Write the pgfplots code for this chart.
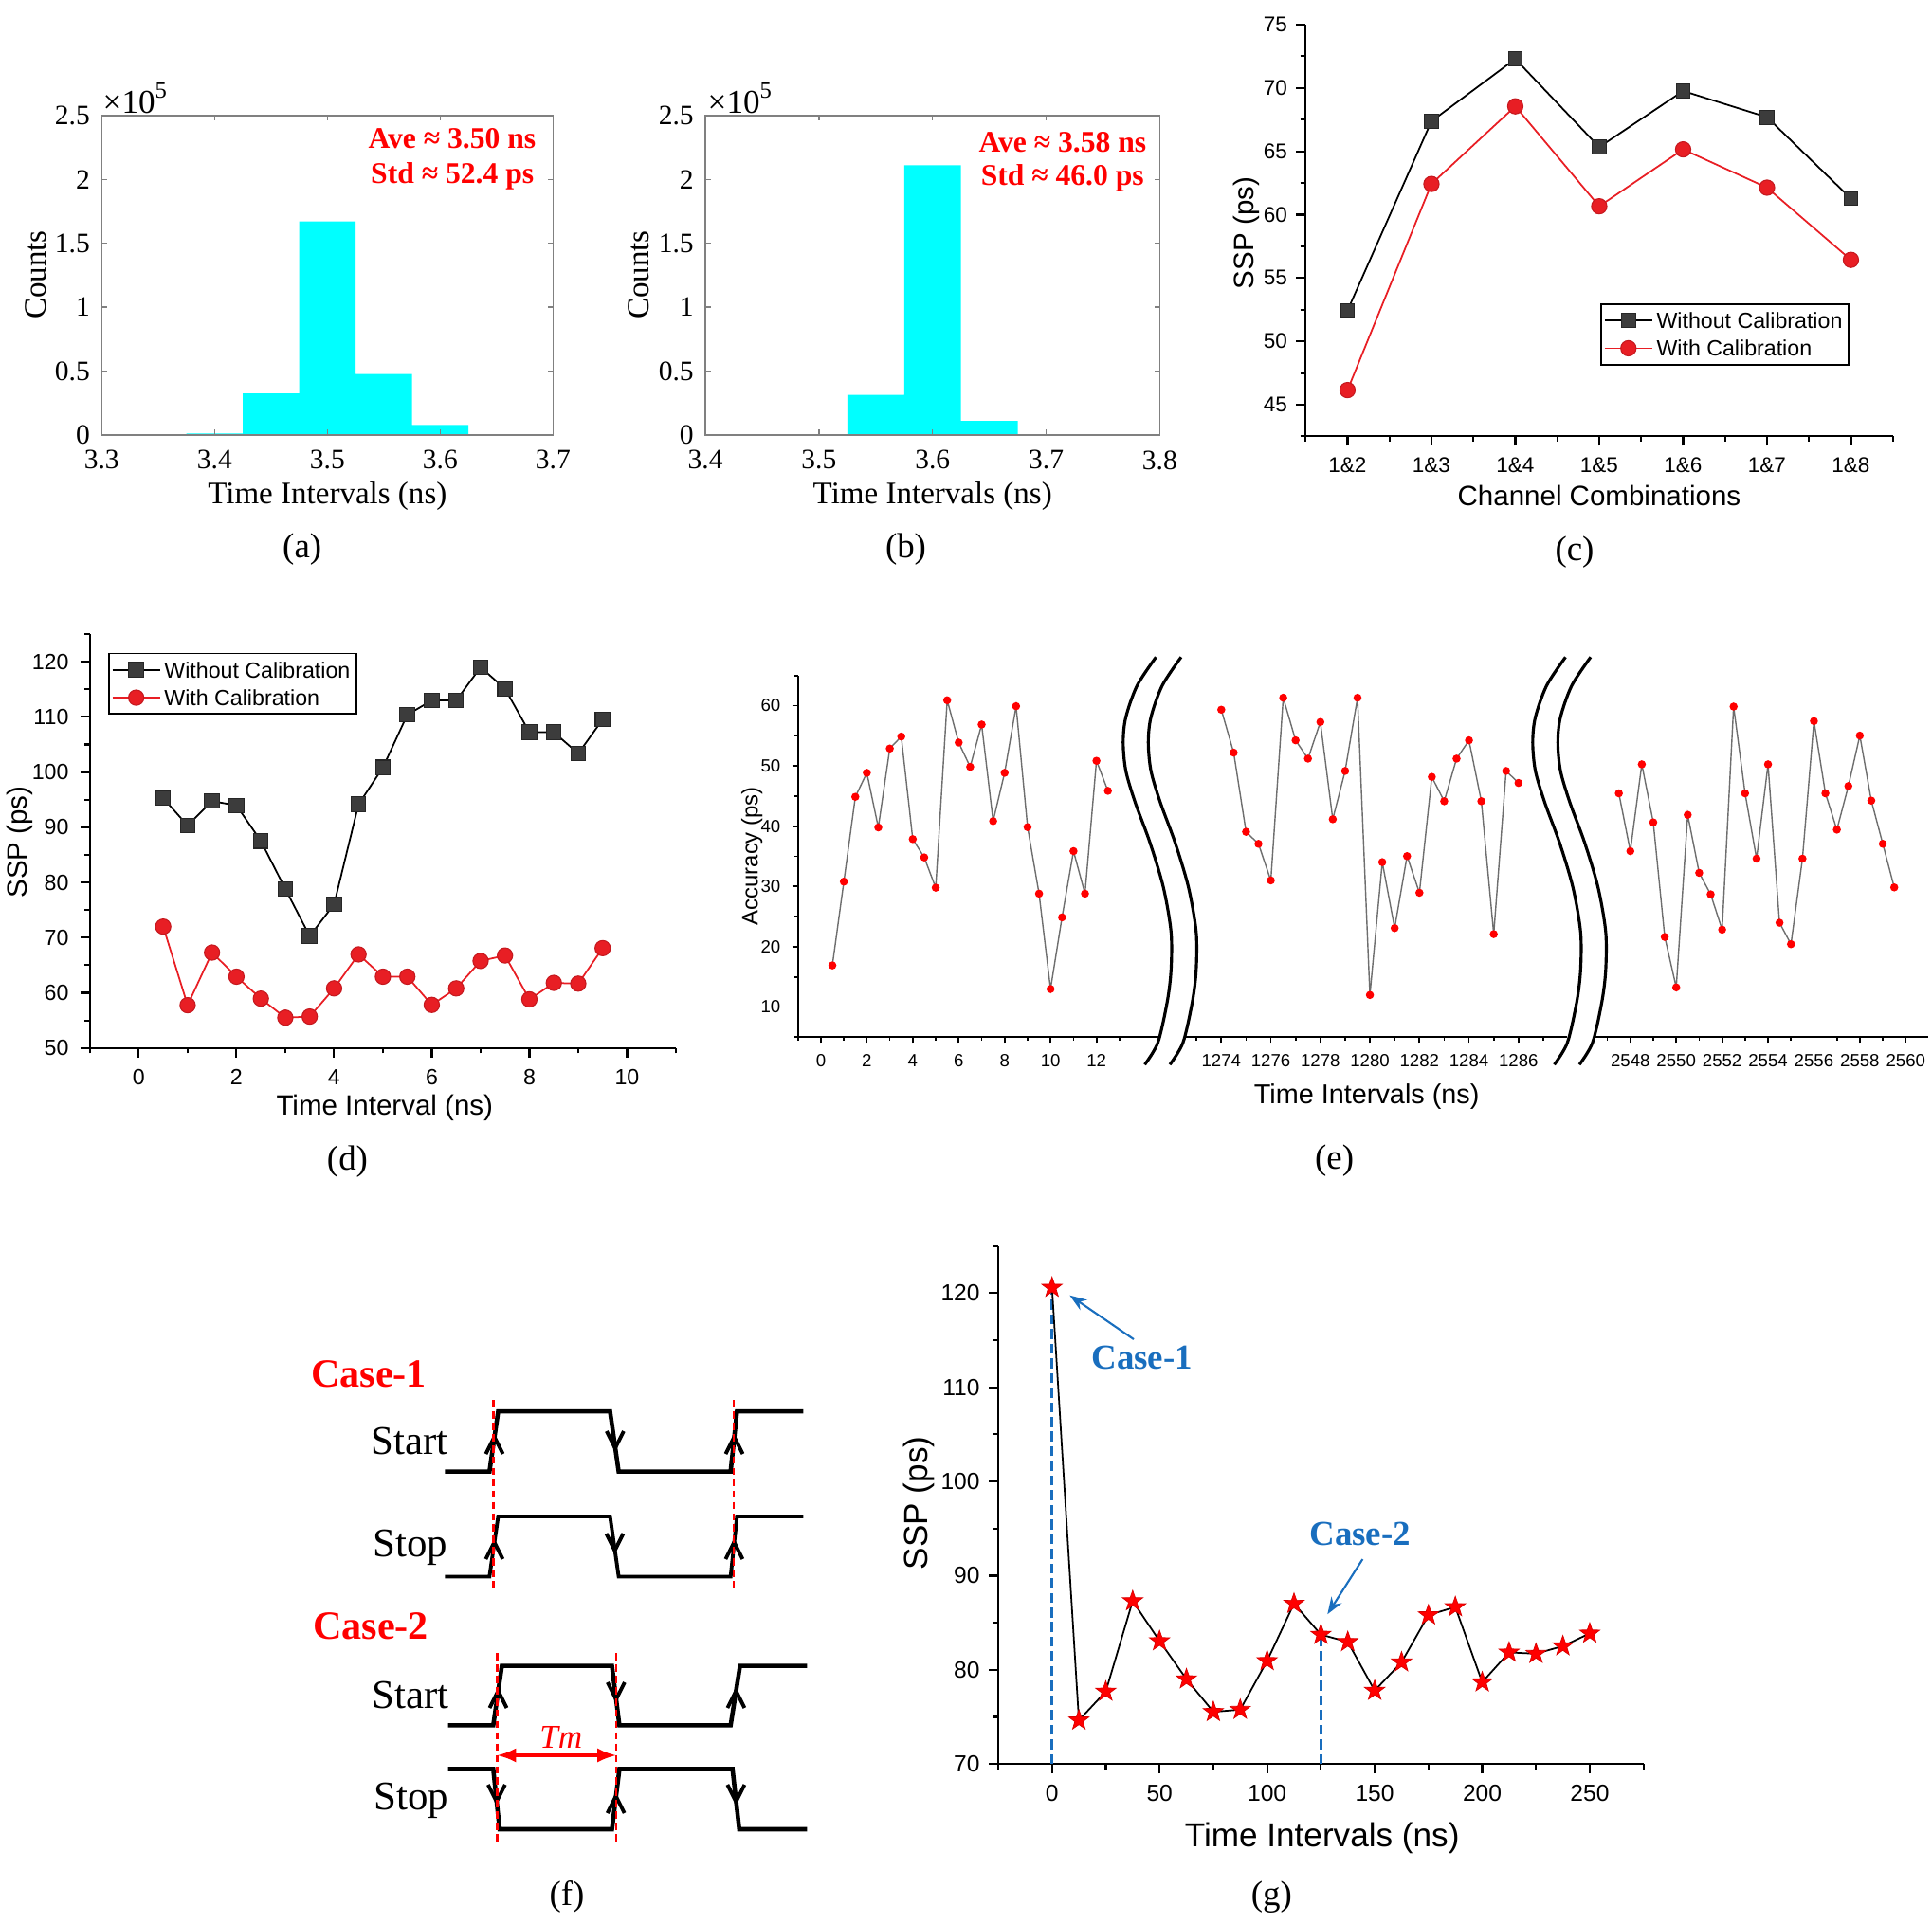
\documentclass[border=0pt]{standalone}
\usepackage{pgfplots}
\pgfplotsset{compat=1.18}
\usepackage{fontspec}
\setmainfont{Liberation Serif}
\newfontfamily\arial{Liberation Sans}
\newfontfamily\tnr{Liberation Serif}
\usetikzlibrary{arrows.meta}
\definecolor{origred}{RGB}{232,30,36}
\definecolor{sqgray}{RGB}{60,60,60}
\definecolor{caseblue}{RGB}{25,110,190}
\definecolor{hcyan}{RGB}{0,255,255}
\definecolor{egray}{RGB}{110,110,110}
\pgfdeclareplotmark{fstar}{%
 \pgfpathmoveto{\pgfpointpolar{90}{1\pgfplotmarksize}}%
 \pgfpathlineto{\pgfpointpolar{126}{0.40\pgfplotmarksize}}%
 \pgfpathlineto{\pgfpointpolar{162}{1\pgfplotmarksize}}%
 \pgfpathlineto{\pgfpointpolar{198}{0.40\pgfplotmarksize}}%
 \pgfpathlineto{\pgfpointpolar{234}{1\pgfplotmarksize}}%
 \pgfpathlineto{\pgfpointpolar{270}{0.40\pgfplotmarksize}}%
 \pgfpathlineto{\pgfpointpolar{306}{1\pgfplotmarksize}}%
 \pgfpathlineto{\pgfpointpolar{342}{0.40\pgfplotmarksize}}%
 \pgfpathlineto{\pgfpointpolar{18}{1\pgfplotmarksize}}%
 \pgfpathlineto{\pgfpointpolar{54}{0.40\pgfplotmarksize}}%
 \pgfpathclose\pgfusepathqfillstroke}
\pgfplotsset{
 matlab/.style={scale only axis, scaled ticks=false, axis on top,
  tick align=inside, tick pos=both, major tick length=0.55mm,
  axis line style={black!50,line width=0.4pt}, tick style={black!50,line width=0.4pt},
  tick label style={font=\tnr\fontsize{8.4}{10}\selectfont},
  xticklabel style={yshift=-0.4mm},
  label style={font=\tnr\fontsize{9.4}{11}\selectfont}},
 origin/.style={scale only axis, scaled ticks=false, axis lines*=left,
  axis line style={line width=0.6pt}, tick align=outside,
  tick style={black,line width=0.6pt}, major tick length=1mm, minor tick length=0.55mm},
 olegend/.style={draw=black,line width=0.5pt,
   font=\arial\fontsize{6.6}{8}\selectfont,inner xsep=0.8pt,inner ysep=2pt,row sep=0.9mm,
   nodes={inner xsep=1.1pt,inner ysep=0.5pt,text depth=0pt},cells={anchor=west}},
}
\begin{document}
\begin{tikzpicture}
\path[use as bounding box] (0,0) rectangle (203.8mm,203mm);

% ---------- (a)
\begin{axis}[matlab, at={(10.73mm,157.1mm)},anchor=south west,width=47.61mm,height=33.7mm,
 xmin=3.3,xmax=3.7,ymin=0,ymax=2.5,
 xtick={3.3,3.4,3.5,3.6,3.7},xticklabels={3.3,3.4,3.5,3.6,3.7},
 ytick={0,0.5,1,1.5,2,2.5},yticklabels={0,0.5,1,1.5,2,2.5},
 xlabel={Time Intervals (ns)}, ylabel={Counts},
 xlabel style={at={(axis description cs:0.5,-0.191)},anchor=center},
 ylabel style={at={(axis description cs:-0.146,0.501)},anchor=center}]
\addplot[ybar interval,fill=hcyan,draw=none] coordinates {(3.375,0.012)(3.425,0.326)(3.475,1.672)(3.525,0.477)(3.575,0.079)(3.625,0.005)(3.675,0.005)};
\end{axis}

% ---------- (b)
\begin{axis}[matlab, at={(74.41mm,157.1mm)},anchor=south west,width=47.93mm,height=33.7mm,
 xmin=3.4,xmax=3.8,ymin=0,ymax=2.5,
 xtick={3.4,3.5,3.6,3.7,3.8},xticklabels={3.4,3.5,3.6,3.7,3.8},
 ytick={0,0.5,1,1.5,2,2.5},yticklabels={0,0.5,1,1.5,2,2.5},
 xlabel={Time Intervals (ns)}, ylabel={Counts},
 xlabel style={at={(axis description cs:0.5,-0.191)},anchor=center},
 ylabel style={at={(axis description cs:-0.147,0.501)},anchor=center}]
\addplot[ybar interval,fill=hcyan,draw=none] coordinates {(3.475,0.004)(3.525,0.315)(3.575,2.111)(3.625,0.111)(3.675,0.005)(3.725,0.005)};
\end{axis}

% ---------- (c)
\begin{axis}[origin, at={(137.72mm,156.96mm)},anchor=south west,width=61.95mm,height=43.44mm,
 xmin=0.5,xmax=7.5,ymin=42.5,ymax=75,
 xtick={1,2,3,4,5,6,7},xticklabels={1\&2,1\&3,1\&4,1\&5,1\&6,1\&7,1\&8},
 minor xtick={0.5,1.5,2.5,3.5,4.5,5.5,6.5,7.5},
 ytick={45,50,55,60,65,70,75},yticklabels={45,50,55,60,65,70,75},
 minor ytick={42.5,47.5,52.5,57.5,62.5,67.5,72.5},
 tick label style={font=\arial\fontsize{6.4}{8}\selectfont},
 yticklabel style={xshift=0.3mm},
 label style={font=\arial\fontsize{8.4}{10}\selectfont},
 xlabel={Channel Combinations}, ylabel={SSP (ps)},
 xlabel style={at={(axis description cs:0.5,-0.144)},anchor=center},
 ylabel style={at={(axis description cs:-0.101,0.4936)},anchor=center},
 legend style={olegend,at={(0.502,0.323)},anchor=north west},
 legend image code/.code={\draw[mark repeat=2,mark phase=2,#1] plot coordinates {(0mm,0mm)(2.5mm,0mm)(5mm,0mm)};}]
\addplot[black,line width=0.5pt,mark=square*,mark size=2.1pt,mark options={fill=sqgray,draw=black!85,line width=0.3pt}]
 coordinates {(1,52.43)(2,67.37)(3,72.29)(4,65.33)(5,69.76)(6,67.69)(7,61.27)};
\addlegendentry{Without Calibration}
\addplot[origred,line width=0.5pt,mark=*,mark size=2.3pt,mark options={fill=origred,draw=origred!85!black,line width=0.3pt}]
 coordinates {(1,46.15)(2,62.42)(3,68.55)(4,60.66)(5,65.15)(6,62.13)(7,56.43)};
\addlegendentry{With Calibration}
\end{axis}

% ---------- (d)
\begin{axis}[origin, at={(9.49mm,92.42mm)},anchor=south west,width=61.81mm,height=43.68mm,
 xmin=-1,xmax=11,ymin=50,ymax=125,
 xtick={0,2,4,6,8,10},xticklabels={0,2,4,6,8,10},
 minor xtick={-1,1,3,5,7,9,11},
 ytick={50,60,70,80,90,100,110,120},yticklabels={50,60,70,80,90,100,110,120},
 minor ytick={55,65,75,85,95,105,115,125},
 tick label style={font=\arial\fontsize{6.6}{8}\selectfont},
 label style={font=\arial\fontsize{8.4}{10}\selectfont},
 xlabel={Time Interval (ns)}, ylabel={SSP (ps)},
 xlabel style={at={(axis description cs:0.503,-0.1447)},anchor=center},
 ylabel style={at={(axis description cs:-0.1196,0.4975)},anchor=center},
 legend style={olegend,at={(0.031,0.955)},anchor=north west},
 legend image code/.code={\draw[mark repeat=2,mark phase=2,#1] plot coordinates {(0mm,0mm)(2.5mm,0mm)(5mm,0mm)};}]
\addplot[black,line width=0.5pt,mark=square*,mark size=2.2pt,mark options={fill=sqgray,draw=black!85,line width=0.3pt}]
 coordinates {(0.5,95.28)(1,90.30)(1.5,94.75)(2,93.95)(2.5,87.52)(3,78.84)(3.5,70.28)(4,76.05)(4.5,94.15)(5,100.84)(5.5,110.39)(6,112.97)(6.5,112.97)(7,119.0)(7.5,115.09)(8,107.21)(8.5,107.21)(9,103.36)(9.5,109.53)};
\addlegendentry{Without Calibration}
\addplot[origred,line width=0.5pt,mark=*,mark size=2.3pt,mark options={fill=origred,draw=origred!85!black,line width=0.3pt}]
 coordinates {(0.5,72.0)(1,57.76)(1.5,67.3)(2,62.93)(2.5,58.95)(3,55.5)(3.5,55.7)(4,60.81)(4.5,66.97)(5,62.93)(5.5,62.93)(6,57.82)(6.5,60.81)(7,65.78)(7.5,66.77)(8,58.82)(8.5,61.8)(9,61.67)(9.5,68.1)};
\addlegendentry{With Calibration}
\end{axis}

% ---------- (e) segment 1
\begin{axis}[origin, at={(84.17mm,93.57mm)},anchor=south west,width=38.13mm,height=38.16mm,
 xmin=-1,xmax=14.74,ymin=5,ymax=65,
 major tick length=0.6mm, minor tick length=0.35mm,
 axis line style={line width=0.5pt}, tick style={black,line width=0.5pt},
 xtick={0,2,4,6,8,10,12},xticklabels={0,2,4,6,8,10,12},
 minor xtick={-1,1,3,5,7,9,11,13},
 ytick={10,20,30,40,50,60},yticklabels={10,20,30,40,50,60},
 minor ytick={5,15,25,35,45,55,65},
 tick label style={font=\arial\fontsize{5.3}{6}\selectfont},
 ylabel={Accuracy (ps)}, ylabel style={font=\arial\fontsize{6.8}{8}\selectfont,at={(axis description cs:-0.127,0.5005)},anchor=center}]
\addplot[egray,line width=0.4pt,mark=*,mark size=1.0pt,mark options={fill=red,draw=red}]
 coordinates {(0.5,16.9)(1,30.8)(1.5,44.87)(2,48.85)(2.5,39.79)(3,52.88)(3.5,54.87)(4,37.85)(4.5,34.82)(5,29.79)(5.5,60.89)(6,53.87)(6.5,49.84)(7,56.86)(7.5,40.84)(8,48.85)(8.5,59.9)(9,39.84)(9.5,28.8)(10,12.98)(10.5,24.87)(11,35.86)(11.5,28.8)(12,50.84)(12.5,45.86)};
\end{axis}
% segment 2
\begin{axis}[origin, at={(125.0mm,93.57mm)},anchor=south west,width=40.3mm,height=38.16mm,
 axis x line*=bottom, axis y line=none,
 xmin=1272.534,xmax=1287.96,ymin=5,ymax=65,
 major tick length=0.6mm, minor tick length=0.35mm,
 axis line style={line width=0.5pt}, tick style={black,line width=0.5pt},
 xtick={1274,1276,1278,1280,1282,1284,1286},xticklabels={1274,1276,1278,1280,1282,1284,1286},
 minor xtick={1273,1275,1277,1279,1281,1283,1285,1287}, ytick=\empty,
 tick label style={font=\arial\fontsize{5.3}{6}\selectfont}]
\addplot[egray,line width=0.4pt,mark=*,mark size=1.0pt,mark options={fill=red,draw=red}]
 coordinates {(1274,59.32)(1274.5,52.2)(1275,39.06)(1275.5,37.07)(1276,31.0)(1276.5,61.31)(1277,54.24)(1277.5,51.2)(1278,57.28)(1278.5,41.15)(1279,49.16)(1279.5,61.31)(1280,11.99)(1280.5,34.03)(1281,23.09)(1281.5,35.03)(1282,28.95)(1282.5,48.17)(1283,44.14)(1283.5,51.2)(1284,54.24)(1284.5,44.14)(1285,22.09)(1285.5,49.16)(1286,47.17)};
\end{axis}
% segment 3
\begin{axis}[origin, at={(168.2mm,93.57mm)},anchor=south west,width=35.2mm,height=38.16mm,
 axis x line*=bottom, axis y line=none,
 xmin=2546.44,xmax=2560.98,ymin=5,ymax=65,
 major tick length=0.6mm, minor tick length=0.35mm,
 axis line style={line width=0.5pt}, tick style={black,line width=0.5pt},
 xtick={2548,2550,2552,2554,2556,2558,2560},xticklabels={2548,2550,2552,2554,2556,2558,2560},
 minor xtick={2547,2549,2551,2553,2555,2557,2559}, ytick=\empty,
 tick label style={font=\arial\fontsize{5.3}{6}\selectfont}]
\addplot[egray,line width=0.4pt,mark=*,mark size=1.0pt,mark options={fill=red,draw=red}]
 coordinates {(2547.5,45.45)(2548,35.86)(2548.5,50.26)(2549,40.63)(2549.5,21.62)(2550,13.25)(2550.5,41.88)(2551,32.25)(2551.5,28.69)(2552,22.83)(2552.5,59.84)(2553,45.45)(2553.5,34.61)(2554,50.26)(2554.5,23.98)(2555,20.42)(2555.5,34.61)(2556,57.43)(2556.5,45.45)(2557,39.42)(2557.5,46.65)(2558,55.03)(2558.5,44.24)(2559,37.07)(2559.5,29.84)};
\end{axis}

% ---------- (g)
\begin{axis}[origin, at={(105.3mm,16.88mm)},anchor=south west,width=68.07mm,height=54.65mm,
 xmin=-25,xmax=275,ymin=70,ymax=125,
 xtick={0,50,100,150,200,250},xticklabels={0,50,100,150,200,250},
 minor xtick={-25,25,75,125,175,225,275},
 ytick={70,80,90,100,110,120},yticklabels={70,80,90,100,110,120},
 minor ytick={75,85,95,105,115,125},
 tick label style={font=\arial\fontsize{7}{8}\selectfont},
 yticklabel style={xshift=0.3mm},
 label style={font=\arial\fontsize{10}{12}\selectfont},
 xlabel={Time Intervals (ns)}, ylabel={SSP (ps)},
 xlabel style={at={(axis description cs:0.502,-0.1435)},anchor=center},
 ylabel style={at={(axis description cs:-0.1234,0.5036)},anchor=center}]
\addplot[caseblue,line width=0.8pt,dash pattern=on 3pt off 1.4pt] coordinates {(0,70)(0,120.59)};
\addplot[caseblue,line width=0.8pt,dash pattern=on 3pt off 1.4pt] coordinates {(125,70)(125,83.74)};
\addplot[black,line width=0.5pt,mark=fstar,mark size=3.2pt,mark options={fill=red,draw=red!85!black,line width=0.2pt}]
 coordinates {(0,120.59)(12.5,74.64)(25,77.7)(37.5,87.3)(50,83.06)(62.5,79.01)(75,75.54)(87.5,75.77)(100,80.95)(112.5,87.03)(125,83.74)(137.5,82.97)(150,77.79)(162.5,80.81)(175,85.81)(187.5,86.67)(200,78.69)(212.5,81.85)(225,81.71)(237.5,82.52)(250,83.87)};
\draw[caseblue,line width=0.6pt,-{Stealth[length=1.8mm,width=1.3mm]}] (axis cs:38,115.1) -- (axis cs:8.2,119.77);
\draw[caseblue,line width=0.6pt,-{Stealth[length=1.8mm,width=1.3mm]}] (axis cs:144.4,91.75) -- (axis cs:128.05,85.9);
\node[font=\tnr\bfseries\fontsize{10.5}{12}\selectfont,text=caseblue] at (axis cs:41.9,113.15) {Case-1};
\node[font=\tnr\bfseries\fontsize{10.5}{12}\selectfont,text=caseblue] at (axis cs:143.2,94.45) {Case-2};
\end{axis}

% ---------- overlay in reference pixel coordinates
\begin{axis}[at={(0mm,0mm)},anchor=south west,scale only axis,width=203.8mm,height=203mm,
 xmin=0,xmax=2038,ymin=0,ymax=2030,y dir=reverse,hide axis,clip=false]
% (a),(b) annotations
\node[anchor=west,inner sep=0pt,font=\tnr\fontsize{10}{11}\selectfont] at (axis cs:108,104) {×10\raisebox{1.0ex}{\fontsize{7}{8}\selectfont 5}};
\node[anchor=west,inner sep=0pt,font=\tnr\fontsize{10}{11}\selectfont] at (axis cs:746,104) {×10\raisebox{1.0ex}{\fontsize{7}{8}\selectfont 5}};
\node[anchor=east,inner sep=0pt,font=\tnr\bfseries\fontsize{9}{11}\selectfont,text=red] at (axis cs:566,146.7) {Ave ≈ 3.50 ns};
\node[anchor=east,inner sep=0pt,font=\tnr\bfseries\fontsize{9}{11}\selectfont,text=red] at (axis cs:564,186) {Std ≈ 52.4 ps};
\node[anchor=east,inner sep=0pt,font=\tnr\bfseries\fontsize{9}{11}\selectfont,text=red] at (axis cs:1210,150) {Ave ≈ 3.58 ns};
\node[anchor=east,inner sep=0pt,font=\tnr\bfseries\fontsize{9}{11}\selectfont,text=red] at (axis cs:1207.5,188.3) {Std ≈ 46.0 ps};
% (e) axis breaks and x label
\addplot[black,line width=0.9pt,smooth] coordinates {(1219.4,693.3)(1199.5,723.3)(1187.6,756.7)(1184.8,783.3)(1187.6,813.3)(1197.5,846.7)(1213.4,890)(1227.3,936.7)(1235.3,983.3)(1235.3,1023.3)(1231.3,1056.7)(1221.4,1100)(1207.5,1123.3)};
\addplot[black,line width=0.9pt,smooth] coordinates {(1245.9,693.3)(1226.0,723.3)(1214.1,756.7)(1211.3,783.3)(1214.1,813.3)(1224.0,846.7)(1239.9,890)(1253.8,936.7)(1261.8,983.3)(1261.8,1023.3)(1257.8,1056.7)(1247.9,1100)(1234.0,1123.3)};
\addplot[black,line width=0.9pt,smooth] coordinates {(1651.4,693.3)(1631.5,723.3)(1619.6,756.7)(1616.8,783.3)(1619.6,813.3)(1629.5,846.7)(1645.4,890)(1659.3,936.7)(1667.3,983.3)(1667.3,1023.3)(1663.3,1056.7)(1653.4,1100)(1639.5,1123.3)};
\addplot[black,line width=0.9pt,smooth] coordinates {(1677.9,693.3)(1658.0,723.3)(1646.1,756.7)(1643.3,783.3)(1646.1,813.3)(1656.0,846.7)(1671.9,890)(1685.8,936.7)(1693.8,983.3)(1693.8,1023.3)(1689.8,1056.7)(1679.9,1100)(1666.0,1123.3)};
\node[font=\arial\fontsize{8.2}{10}\selectfont] at (axis cs:1441.7,1156.7) {Time Intervals (ns)};
% (f) timing diagram
\addplot[black,line width=1.3pt] coordinates {(469.4,1552.7)(516.3,1552.7)(525.5,1489.2)(643.5,1489.2)(652.6,1552.7)(770.7,1552.7)(777.4,1489.2)(847.4,1489.2)};
\addplot[black,line width=1.1pt] coordinates {(469.4,1663.5)(516.3,1663.5)(525.5,1600)(643.5,1600)(652.6,1663.5)(770.7,1663.5)(777.4,1600)(847.4,1600)};
\addplot[black,line width=1.3pt] coordinates {(472.6,1820.4)(520.3,1820.4)(529.4,1757.7)(645.5,1757.7)(653.4,1820.4)(770.7,1820.4)(780.6,1757.7)(851.3,1757.7)};
\addplot[black,line width=1.3pt] coordinates {(472.6,1866.5)(520.3,1866.5)(527,1930)(645.5,1930)(653.4,1866.5)(772.7,1866.5)(779.8,1930)(851.3,1930)};
% edge arrows
\addplot[black,line width=1.1pt] coordinates {(512.5,1534)(521.5,1516)(530.5,1534)};
\addplot[black,line width=1.1pt] coordinates {(639.9,1510)(648.9,1528)(657.9,1510)};
\addplot[black,line width=1.1pt] coordinates {(765.5,1534)(774.5,1516)(783.5,1534)};
\addplot[black,line width=1.1pt] coordinates {(512.4,1645)(521.4,1627)(530.4,1645)};
\addplot[black,line width=1.1pt] coordinates {(639.5,1618)(648.5,1636)(657.5,1618)};
\addplot[black,line width=1.1pt] coordinates {(765.4,1645)(774.4,1627)(783.4,1645)};
\addplot[black,line width=1.1pt] coordinates {(516.5,1802)(525.5,1784)(534.5,1802)};
\addplot[black,line width=1.1pt] coordinates {(640.9,1775)(649.9,1793)(658.9,1775)};
\addplot[black,line width=1.1pt] coordinates {(767.4,1802)(776.4,1784)(785.4,1802)};
\addplot[black,line width=1.1pt] coordinates {(514.8,1883)(523.8,1901)(532.8,1883)};
\addplot[black,line width=1.1pt] coordinates {(640.7,1913)(649.7,1895)(658.7,1913)};
\addplot[black,line width=1.1pt] coordinates {(767.4,1883)(776.4,1901)(785.4,1883)};
% red dashed guides
\addplot[red,line width=0.7pt,dash pattern=on 2.2pt off 1.2pt] coordinates {(520.3,1477)(520.3,1679)};
\addplot[red,line width=0.7pt,dash pattern=on 2.2pt off 1.2pt] coordinates {(773.8,1477)(773.8,1679)};
\addplot[red,line width=0.7pt,dash pattern=on 2.2pt off 1.2pt] coordinates {(524.3,1744)(524.3,1946)};
\addplot[red,line width=0.7pt,dash pattern=on 2.2pt off 1.2pt] coordinates {(650.2,1744)(650.2,1946)};
\addplot[red,line width=0.9pt,{Latex[length=2mm,width=1.5mm]}-{Latex[length=2mm,width=1.5mm]}] coordinates {(524.3,1852)(650.2,1852)};
\node[font=\tnr\itshape\fontsize{10}{12}\selectfont,text=red] at (axis cs:591.8,1832.7) {Tm};
\node[font=\tnr\bfseries\fontsize{12}{14}\selectfont,text=red] at (axis cs:389,1450) {Case-1};
\node[font=\tnr\bfseries\fontsize{12}{14}\selectfont,text=red] at (axis cs:391,1715.4) {Case-2};
\node[font=\tnr\fontsize{12.2}{14}\selectfont] at (axis cs:432,1521) {Start};
\node[font=\tnr\fontsize{12.2}{14}\selectfont] at (axis cs:433,1633) {Stop};
\node[font=\tnr\fontsize{12.2}{14}\selectfont] at (axis cs:433,1788.5) {Start};
\node[font=\tnr\fontsize{12.2}{14}\selectfont] at (axis cs:434,1900) {Stop};
% panel letters
\node[font=\tnr\fontsize{10.5}{12}\selectfont] at (axis cs:318.7,580) {(a)};
\node[font=\tnr\fontsize{10.5}{12}\selectfont] at (axis cs:955.5,580) {(b)};
\node[font=\tnr\fontsize{10.5}{12}\selectfont] at (axis cs:1661,582.7) {(c)};
\node[font=\tnr\fontsize{10.5}{12}\selectfont] at (axis cs:366.5,1225.5) {(d)};
\node[font=\tnr\fontsize{10.5}{12}\selectfont] at (axis cs:1407.6,1224.3) {(e)};
\node[font=\tnr\fontsize{10.5}{12}\selectfont] at (axis cs:598,2001.5) {(f)};
\node[font=\tnr\fontsize{10.5}{12}\selectfont] at (axis cs:1341.3,2001.5) {(g)};
\end{axis}
\end{tikzpicture}
\end{document}
